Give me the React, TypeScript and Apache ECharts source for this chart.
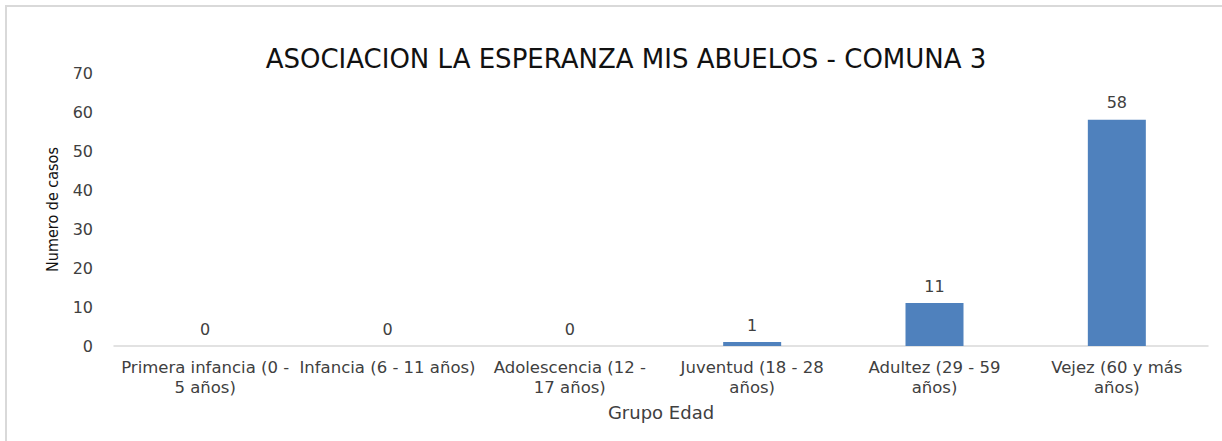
import React, { useEffect, useRef } from "react";
import * as echarts from "echarts";

const categories = [
  "Primera infancia (0 - 5 años)",
  "Infancia (6 - 11 años)",
  "Adolescencia (12 - 17 años)",
  "Juventud (18 - 28 años)",
  "Adultez (29 - 59 años)",
  "Vejez (60 y más años)",
];
const categoryLabels = [
  "Primera infancia (0 -\n5 años)",
  "Infancia (6 - 11 años)",
  "Adolescencia (12 -\n17 años)",
  "Juventud (18 - 28\naños)",
  "Adultez (29 - 59\naños)",
  "Vejez (60 y más\naños)",
];
const casos = [0, 0, 0, 1, 11, 58];

const WIDE = "'DejaVu Sans', sans-serif";
const NARROW = "'Liberation Sans Narrow', 'DejaVu Sans Condensed', sans-serif";

export default function App() {
  const ref = useRef<HTMLDivElement>(null);
  useEffect(() => {
    if (!ref.current) return;
    const chart = echarts.init(ref.current, null, { renderer: "svg" });
    chart.setOption({
      animation: false,
      backgroundColor: "#ffffff",
      textStyle: { fontFamily: WIDE },
      title: {
        text: "ASOCIACION LA ESPERANZA MIS ABUELOS - COMUNA 3",
        left: 621,
        top: 41,
        textAlign: "center",
        textStyle: { fontFamily: WIDE, fontSize: 26, fontWeight: "normal", color: "#111111" },
      },
      graphic: [
        {
          type: "rect",
          shape: { x: 6, y: 6, width: 1240, height: 460 },
          style: { fill: "none", stroke: "#D9D9D9", lineWidth: 2 },
          silent: true,
        },
      ],
      grid: { left: 114, right: 14, top: 73, bottom: 95, containLabel: false },
      xAxis: {
        type: "category",
        data: categories,
        name: "Grupo Edad",
        nameLocation: "middle",
        nameGap: 57,
        nameTextStyle: { fontFamily: WIDE, fontSize: 18, color: "#404040" },
        axisLine: { show: true, lineStyle: { color: "#D9D9D9", width: 1.5 } },
        axisTick: { show: false },
        axisLabel: {
          interval: 0,
          margin: 11,
          fontFamily: WIDE,
          fontSize: 16.5,
          lineHeight: 20,
          color: "#404040",
          formatter: (_v: string, i: number) => categoryLabels[i],
        },
      },
      yAxis: {
        type: "value",
        min: 0,
        max: 70,
        interval: 10,
        name: "Numero de casos",
        nameLocation: "middle",
        nameGap: 54,
        nameRotate: 90,
        nameTextStyle: { fontFamily: NARROW, fontSize: 16, color: "#111111" },
        axisLine: { show: false },
        axisTick: { show: false },
        splitLine: { show: false },
        axisLabel: { margin: 21, fontFamily: WIDE, fontSize: 16, color: "#404040" },
      },
      series: [
        {
          type: "bar",
          data: casos,
          barWidth: 58,
          itemStyle: { color: "#4F81BD" },
          label: {
            show: true,
            position: "top",
            distance: 9,
            fontFamily: WIDE,
            fontSize: 16,
            color: "#404040",
          },
        },
      ],
    });
    return () => chart.dispose();
  }, []);
  return (
    <div
      ref={ref}
      style={{ position: "fixed", left: 0, top: 0, width: 1222, height: 441 }}
    />
  );
}
